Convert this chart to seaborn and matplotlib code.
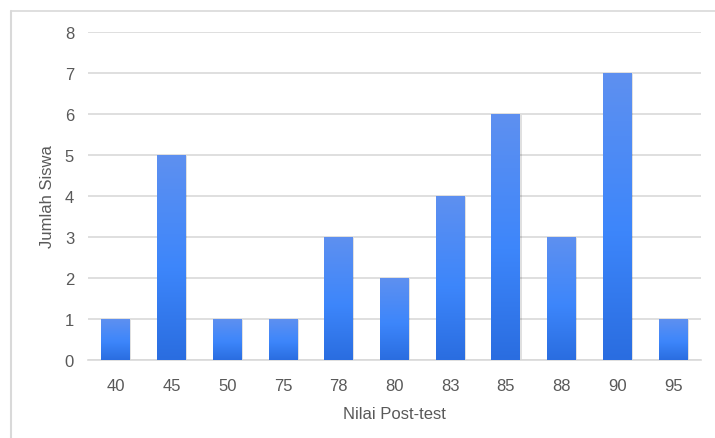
import matplotlib
matplotlib.use("Agg")
import matplotlib.pyplot as plt
import seaborn as sns
import numpy as np
import pandas as pd
from matplotlib.colors import LinearSegmentedColormap
from matplotlib.patches import Rectangle
from matplotlib.lines import Line2D

categories = ["40", "45", "50", "75", "78", "80", "83", "85", "88", "90", "95"]
counts = [1, 5, 1, 1, 3, 2, 4, 6, 3, 7, 1]

sns.set_theme(style="white")
plt.rcParams['font.family'] = ['Liberation Sans', 'DejaVu Sans']

df = pd.DataFrame({"Nilai": categories, "Jumlah": counts})

fig = plt.figure(figsize=(7.15, 4.39), dpi=100)
ax = fig.add_axes([88/715, 1 - 361/439, (701-88)/715, (361-33)/439])

sns.barplot(data=df, x="Nilai", y="Jumlah", order=categories, color="#3f87fb",
            width=0.52, ax=ax, zorder=3)

ax.set_ylim(0, 8)
ax.set_xlim(-0.5, len(categories) - 0.5)
ax.set_yticks(range(0, 9))
ax.yaxis.grid(True, color="#d9d9d9", linewidth=1.2, zorder=0)
ax.set_axisbelow(True)
for s in ax.spines.values():
    s.set_visible(False)
ax.spines['bottom'].set_visible(True)
ax.spines['bottom'].set_color("#d9d9d9")
ax.spines['bottom'].set_linewidth(1.2)

cmap = LinearSegmentedColormap.from_list("g", [(0, "#2a6de0"), (0.45, "#3d86fb"), (1, "#5e90f0")])
grad = np.linspace(0, 1, 256).reshape(-1, 1)
for p in list(ax.patches):
    x0, y0 = p.get_x(), p.get_y()
    w, h = p.get_width(), p.get_height()
    if h <= 0:
        continue
    sh = Rectangle((x0 + 0.02, y0), w, h - 0.02, facecolor="#000000", alpha=0.12,
                   edgecolor="none", zorder=2.5)
    ax.add_patch(sh)
    p.set_facecolor("none")
    p.set_edgecolor("none")
    im = ax.imshow(grad, cmap=cmap, origin="lower", aspect="auto",
                   extent=[x0, x0 + w, y0, y0 + h], zorder=3, interpolation="bicubic")
    im.set_clip_path(p)

ax.set_xlim(-0.5, len(categories) - 0.5)
ax.set_ylim(0, 8)

ax.tick_params(axis="both", colors="#595959", labelsize=12, length=0)
ax.tick_params(axis="x", pad=13)
ax.tick_params(axis="y", pad=10)
ax.set_xlabel("Nilai Post-test", color="#595959", fontsize=12, labelpad=9)
ax.set_ylabel("Jumlah Siswa", color="#595959", fontsize=12, labelpad=7)

fig.add_artist(Line2D([10.5/715, 10.5/715], [0, 1 - 12/439], transform=fig.transFigure,
                      color="#d9d9d9", linewidth=1.5))
fig.add_artist(Line2D([10.5/715, 1], [1 - 12/439, 1 - 12/439], transform=fig.transFigure,
                      color="#d9d9d9", linewidth=1.2))

fig.savefig("out.png", dpi=100)
